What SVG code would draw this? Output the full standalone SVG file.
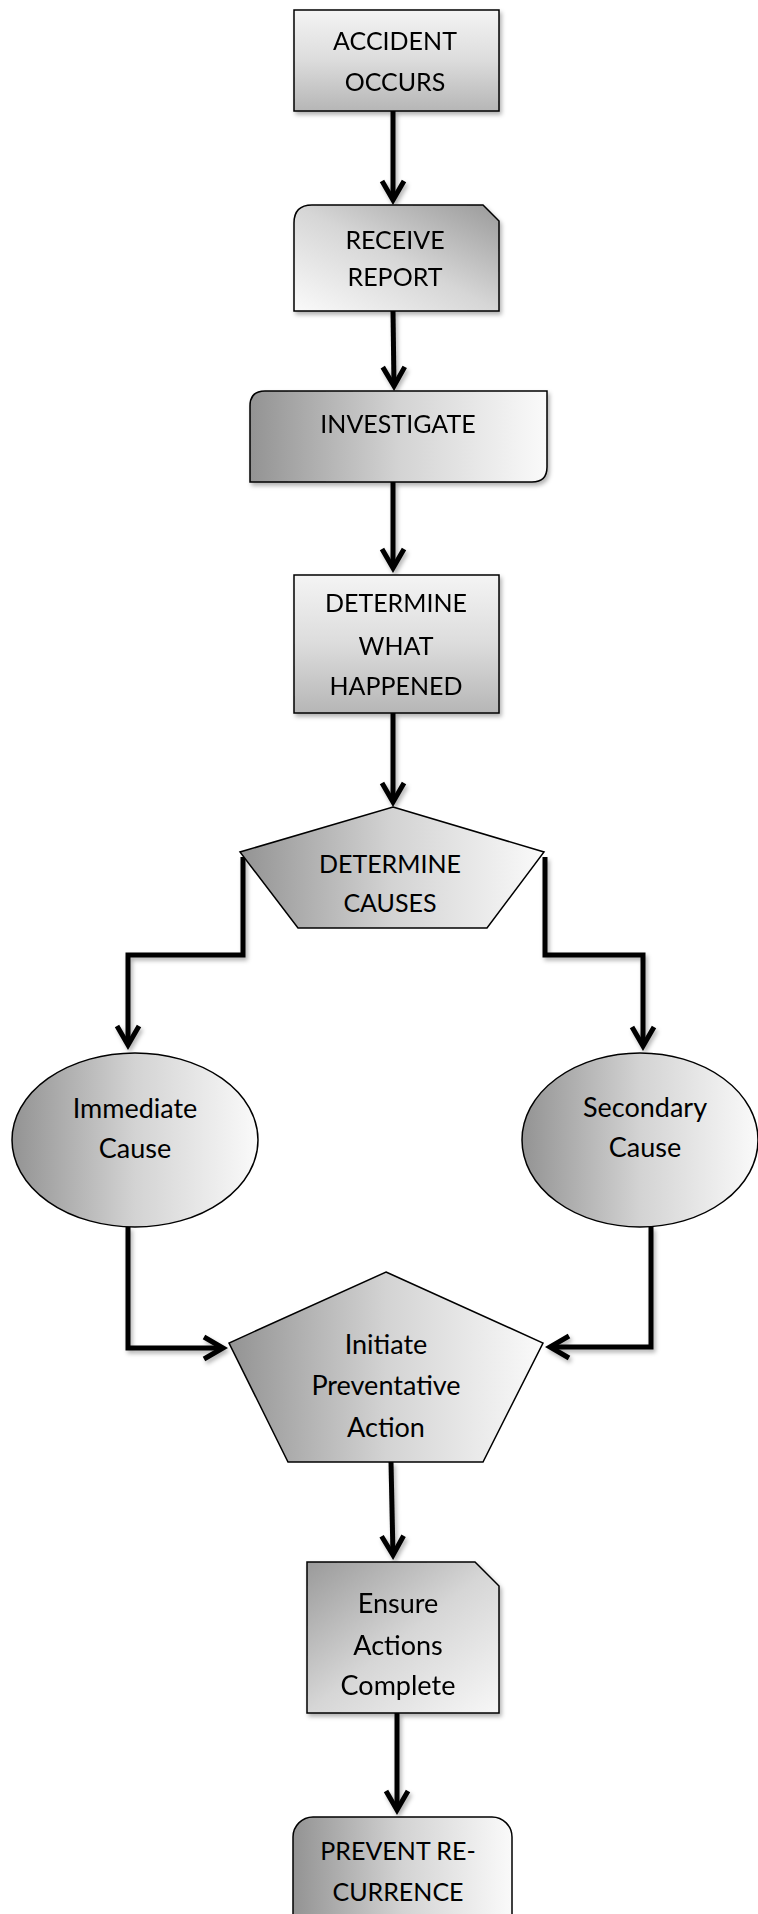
<svg xmlns="http://www.w3.org/2000/svg" width="758" height="1914" viewBox="0 0 758 1914">
<style>
.shape{stroke:#000;stroke-width:1.5}
.t{font-family:Lato,"Liberation Sans",sans-serif;font-size:25px;fill:#000;text-anchor:middle}
.l{font-size:27px}
.conn{fill:none;stroke:#000;stroke-width:5;stroke-linejoin:miter}
</style>
<defs>
<linearGradient id="gv" x1="0" y1="0" x2="0" y2="1"><stop offset="0" stop-color="#f4f4f4"/><stop offset="0.5" stop-color="#dcdcdc"/><stop offset="1" stop-color="#b6b6b6"/></linearGradient>
<linearGradient id="gh" x1="0" y1="0" x2="1" y2="0"><stop offset="0" stop-color="#939393"/><stop offset="0.5" stop-color="#d3d3d3"/><stop offset="1" stop-color="#fafafa"/></linearGradient>
<linearGradient id="gd1" x1="1" y1="0" x2="0" y2="1"><stop offset="0" stop-color="#9a9a9a"/><stop offset="0.5" stop-color="#d6d6d6"/><stop offset="1" stop-color="#fafafa"/></linearGradient>
<linearGradient id="gd2" x1="0" y1="0" x2="1" y2="1"><stop offset="0" stop-color="#9a9a9a"/><stop offset="0.5" stop-color="#d6d6d6"/><stop offset="1" stop-color="#f7f7f7"/></linearGradient>
<filter id="sh" x="-20%" y="-20%" width="140%" height="140%"><feDropShadow dx="2" dy="3" stdDeviation="2" flood-color="#000" flood-opacity="0.3"/></filter>
<marker id="ah" markerUnits="userSpaceOnUse" refX="0" refY="0" markerWidth="40" markerHeight="40" viewBox="-30 -20 40 40" orient="auto" overflow="visible"><path d="M-19,-11 L0,0 L-19,11" fill="none" stroke="#000" stroke-width="5" stroke-linejoin="miter"/></marker>
</defs>
<g id="connectors" filter="url(#sh)">
<path class="conn" d="M393,111 L393,200" marker-end="url(#ah)"/>
<path class="conn" d="M393,311 L394,386" marker-end="url(#ah)"/>
<path class="conn" d="M393,482 L393,568" marker-end="url(#ah)"/>
<path class="conn" d="M393,713 L393,802" marker-end="url(#ah)"/>
<path class="conn" d="M243,857 L243,955 L128,955 L128,1045" marker-end="url(#ah)"/>
<path class="conn" d="M545,857 L545,955 L643,955 L643,1046" marker-end="url(#ah)"/>
<path class="conn" d="M128,1227 L128,1348 L223,1348" marker-end="url(#ah)"/>
<path class="conn" d="M651,1227 L651,1347 L550,1347" marker-end="url(#ah)"/>
<path class="conn" d="M391,1462 L393,1555" marker-end="url(#ah)"/>
<path class="conn" d="M397,1713 L397,1810" marker-end="url(#ah)"/>
</g>
<g id="accident" filter="url(#sh)">
<rect class="shape" x="294" y="10" width="205" height="101" fill="url(#gv)"/>
<text class="t" x="395" y="50">ACCIDENT</text>
<text class="t" x="395" y="91">OCCURS</text>
</g>
<g id="receive" filter="url(#sh)">
<path class="shape" d="M294,311 L294,223 Q294,205 312,205 L483,205 L499,221 L499,311 Z" fill="url(#gd1)"/>
<text class="t" x="395" y="249">RECEIVE</text>
<text class="t" x="395" y="286">REPORT</text>
</g>
<g id="investigate" filter="url(#sh)">
<path class="shape" d="M250,482 L250,406 Q250,391 265,391 L547,391 L547,467 Q547,482 532,482 Z" fill="url(#gh)"/>
<text class="t" x="398" y="433">INVESTIGATE</text>
</g>
<g id="what-happened" filter="url(#sh)">
<rect class="shape" x="294" y="575" width="205" height="138" fill="url(#gv)"/>
<text class="t" x="396" y="612">DETERMINE</text>
<text class="t" x="396" y="655">WHAT</text>
<text class="t" x="396" y="695">HAPPENED</text>
</g>
<g id="causes">
<polygon class="shape" points="393,807 544,852 487,928 298,928 240,852" fill="url(#gh)"/>
<text class="t" x="390" y="873">DETERMINE</text>
<text class="t" x="390" y="912">CAUSES</text>
</g>
<g id="immediate">
<ellipse class="shape" cx="135" cy="1140" rx="123" ry="87" fill="url(#gh)"/>
<text class="t l" x="135" y="1118">Immediate</text>
<text class="t l" x="135" y="1158">Cause</text>
</g>
<g id="secondary">
<ellipse class="shape" cx="640" cy="1140" rx="118" ry="87" fill="url(#gh)"/>
<text class="t l" x="645" y="1117">Secondary</text>
<text class="t l" x="645" y="1157">Cause</text>
</g>
<g id="initiate">
<polygon class="shape" points="386,1272 543,1343 483,1462 288,1462 229,1343" fill="url(#gh)"/>
<text class="t l" x="386" y="1354">Initiate</text>
<text class="t l" x="386" y="1395">Preventative</text>
<text class="t l" x="386" y="1437">Action</text>
</g>
<g id="ensure" filter="url(#sh)">
<path class="shape" d="M307,1562 L475,1562 L499,1586 L499,1713 L307,1713 Z" fill="url(#gd2)"/>
<text class="t l" x="398" y="1613">Ensure</text>
<text class="t l" x="398" y="1655">Actions</text>
<text class="t l" x="398" y="1695">Complete</text>
</g>
<g id="prevent">
<rect class="shape" x="293" y="1817" width="219" height="130" rx="20" ry="20" fill="url(#gh)"/>
<text class="t" x="398" y="1860">PREVENT RE-</text>
<text class="t" x="398" y="1901">CURRENCE</text>
</g>
</svg>
